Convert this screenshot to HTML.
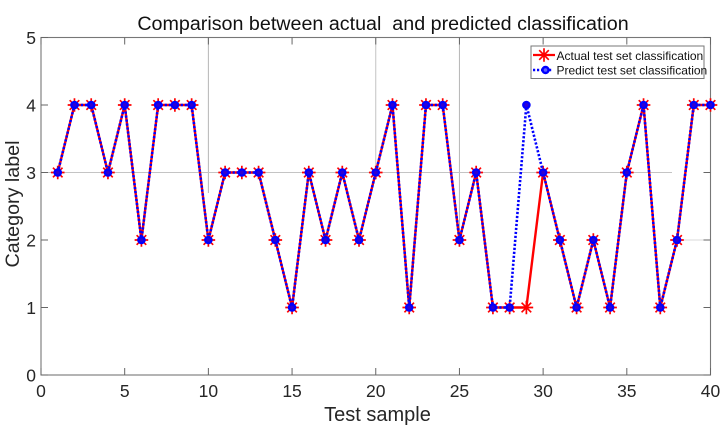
<!DOCTYPE html>
<html>
<head>
<meta charset="utf-8">
<title>Comparison between actual and predicted classification</title>
<style>
html,body{margin:0;padding:0;background:#fff;width:727px;height:429px;overflow:hidden}
svg{display:block;font-family:"Liberation Sans",Arial,sans-serif}
text{white-space:pre;fill:#262626}
</style>
</head>
<body>
<svg id="chart" xmlns="http://www.w3.org/2000/svg" width="727" height="429" viewBox="0 0 727 429">
<g id="grid"></g>
<g id="axes"></g>
<g id="actual"></g>
<g id="predict"></g>
<text x="383" y="30" text-anchor="middle" font-size="19.7" style="fill:#111">Comparison between actual  and predicted classification</text>
<text x="377.5" y="421" text-anchor="middle" font-size="20">Test sample</text>
<text transform="translate(19,204) rotate(-90)" text-anchor="middle" font-size="19.7">Category label</text>
<g>
<rect x="531" y="46" width="173" height="32.5" fill="#fff" stroke="#777" stroke-width="1"/>
<g id="legend-marks"></g>
<text x="556.5" y="60" font-size="12" style="fill:#111">Actual test set classification</text>
<text x="556.5" y="74.5" font-size="12" style="fill:#111">Predict test set classification</text>
</g>
</svg>
<script>
const sampleIds = [1,2,3,4,5,6,7,8,9,10,11,12,13,14,15,16,17,18,19,20,21,22,23,24,25,26,27,28,29,30,31,32,33,34,35,36,37,38,39,40];
const actualValues = [3,4,4,3,4,2,4,4,4,2,3,3,3,2,1,3,2,3,2,3,4,1,4,4,2,3,1,1,1,3,2,1,2,1,3,4,1,2,4,4];
const predictValues = [3,4,4,3,4,2,4,4,4,2,3,3,3,2,1,3,2,3,2,3,4,1,4,4,2,3,1,1,4,3,2,1,2,1,3,4,1,2,4,4];
const xTicks = [0,5,10,15,20,25,30,35,40];
const yTicks = [0,1,2,3,4,5];

const NS = 'http://www.w3.org/2000/svg';
const LEFT = 41, RIGHT = 710.5, BOTTOM = 375, TOP = 37.5;
const sx = v => LEFT + v * (RIGHT - LEFT) / 40;
const sy = v => BOTTOM - v * (BOTTOM - TOP) / 5;

function mk(parent, tag, attrs, txt) {
  const el = document.createElementNS(NS, tag);
  for (const k in attrs) el.setAttribute(k, attrs[k]);
  if (txt !== undefined) el.textContent = txt;
  parent.appendChild(el);
  return el;
}
const grid = document.getElementById('grid');
const axes = document.getElementById('axes');
const GRIDC = '#c4c4c4';

/* partially visible grid lines, as in the reference */
let g;
g = mk(grid, 'line', {x1: sx(10), x2: sx(10), y1: TOP, y2: 193, stroke: '#b5b5b5', 'stroke-width': 1});


g = mk(grid, 'line', {x1: sx(20), x2: sx(20), y1: TOP, y2: 172, stroke: GRIDC, 'stroke-width': 1});


g = mk(grid, 'line', {x1: sx(25), x2: sx(25), y1: TOP, y2: 240, stroke: '#b5b5b5', 'stroke-width': 1});


g = mk(grid, 'line', {x1: LEFT, x2: 672, y1: sy(3), y2: sy(3), stroke: GRIDC, 'stroke-width': 1});


g = mk(grid, 'line', {x1: 677, x2: RIGHT, y1: sy(2), y2: sy(2), stroke: '#d8d8d8', 'stroke-width': 1});



/* axes frame */
const frame = mk(axes, 'rect', {x: LEFT, y: TOP, width: RIGHT - LEFT, height: BOTTOM - TOP, fill: 'none', stroke: '#777', 'stroke-width': 1.1});



xTicks.forEach(t => {
  const d = `M${sx(t)} ${BOTTOM}v-7M${sx(t)} ${TOP}v7`;
  const tick = mk(axes, 'path', {d: d, stroke: '#666', 'stroke-width': 1, fill: 'none'});
  
  
  const label = mk(axes, 'text', {x: sx(t), y: 397, 'text-anchor': 'middle', 'font-size': 17.5}, String(t));
  
  
});
yTicks.forEach(t => {
  const d = `M${LEFT} ${sy(t)}h7M${RIGHT} ${sy(t)}h-7`;
  const tick = mk(axes, 'path', {d: d, stroke: '#666', 'stroke-width': 1, fill: 'none'});
  
  
  const label = mk(axes, 'text', {x: 36, y: sy(t) + 6.5, 'text-anchor': 'end', 'font-size': 17.5}, String(t));
  
  
});

function asterisk(parent, cx, cy) {
  const r = 6.8, r2 = 4.8;
  const d = `M${cx - r} ${cy}h${2 * r}M${cx} ${cy - r}v${2 * r}M${cx - r2} ${cy - r2}l${2 * r2} ${2 * r2}M${cx - r2} ${cy + r2}l${2 * r2} ${-2 * r2}`;
  return mk(parent, 'path', {d: d, stroke: '#ff0000', 'stroke-width': 1.7, fill: 'none'});
}
function dot(parent, cx, cy) {
  return mk(parent, 'circle', {cx: cx, cy: cy, r: 3.1, fill: '#3000d0', stroke: '#0000ff', 'stroke-width': 2.4});
}

/* actual series */
const actualG = document.getElementById('actual');
const actualLine = mk(actualG, 'polyline', {
  points: sampleIds.map((s, i) => sx(s) + ',' + sy(actualValues[i])).join(' '),
  fill: 'none', stroke: '#ff0000', 'stroke-width': 2.4
});


sampleIds.forEach((s, i) => {
  const m = asterisk(actualG, sx(s), sy(actualValues[i]));
  
  
});

/* predicted series */
const predictG = document.getElementById('predict');
const predictLine = mk(predictG, 'polyline', {
  points: sampleIds.map((s, i) => sx(s) + ',' + sy(predictValues[i])).join(' '),
  fill: 'none', stroke: '#0000ff', 'stroke-width': 2.6, 'stroke-dasharray': '2.2 1.8'
});


sampleIds.forEach((s, i) => {
  const m = dot(predictG, sx(s), sy(predictValues[i]));
  
  
});

/* legend keys */
const lg = document.getElementById('legend-marks');
const k1 = mk(lg, 'line', {x1: 533, x2: 555, y1: 55, y2: 55, stroke: '#ff0000', 'stroke-width': 2.2});


const k2 = asterisk(lg, 544, 55);


const k3 = mk(lg, 'line', {x1: 533, x2: 553, y1: 70, y2: 70, stroke: '#0000ff', 'stroke-width': 2.6, 'stroke-dasharray': '2.2 1.8'});


const k4 = mk(lg, 'circle', {cx: 545.5, cy: 70, r: 3, fill: '#6060ff', stroke: '#0000ff', 'stroke-width': 2.4});


</script>
</body>
</html>
